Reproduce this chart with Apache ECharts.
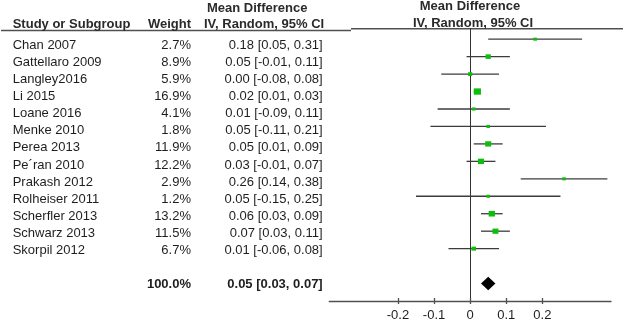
<!DOCTYPE html>
<html>
<head>
<meta charset="utf-8">
<script src="https://cdn.jsdelivr.net/npm/echarts@6/dist/echarts.min.js"></script>
<style>
html,body{margin:0;padding:0;background:#fff;}
#chart{width:625px;height:322px;}
</style>
</head>
<body>
<div id="chart"></div>
<script>
// ---- data ----
const studies = ['Chan 2007','Gattellaro 2009','Langley2016','Li 2015','Loane 2016','Menke 2010','Perea 2013','Pe\u00b4ran 2010','Prakash 2012','Rolheiser 2011','Scherfler 2013','Schwarz 2013','Skorpil 2012'];
const weights = [2.7, 8.9, 5.9, 16.9, 4.1, 1.8, 11.9, 12.2, 2.9, 1.2, 13.2, 11.5, 6.7];
const meanDiff = [0.18, 0.05, 0.00, 0.02, 0.01, 0.05, 0.05, 0.03, 0.26, 0.05, 0.06, 0.07, 0.01];
const ciLow = [0.05, -0.01, -0.08, 0.01, -0.09, -0.11, 0.01, -0.01, 0.14, -0.15, 0.03, 0.03, -0.06];
const ciHigh = [0.31, 0.11, 0.08, 0.03, 0.11, 0.21, 0.09, 0.07, 0.38, 0.25, 0.09, 0.11, 0.08];
const totalWeight = 100.0;
const totalMD = 0.05;
const totalLow = 0.03;
const totalHigh = 0.07;
const xTicks = [-0.2, -0.1, 0, 0.1, 0.2];
const headerTitle = 'Mean Difference';
const headerMethod = 'IV, Random, 95% CI';

// ---- layout / style ----
const FONT = '"Liberation Sans", Arial, sans-serif';
const TXT = '#1e1e1e';
const LINE = '#505050';
const totalRow = studies.length + 1;
const fmt = v => v.toFixed(2);
const ciText = (m, l, h) => fmt(m) + ' [' + fmt(l) + ', ' + fmt(h) + ']';

const tableRows = studies.map((s, i) => ({ row: i, name: s, w: weights[i].toFixed(1) + '%', ci: ciText(meanDiff[i], ciLow[i], ciHigh[i]), bold: false }));
tableRows.push({ row: totalRow, name: '', w: totalWeight.toFixed(1) + '%', ci: ciText(totalMD, totalLow, totalHigh), bold: true });

const COL_NAME = 12.7, COL_W = 191, COL_CI = 322.7;

const chart = echarts.init(document.getElementById('chart'), null, { renderer: 'canvas' });

chart.setOption({
  animation: false,
  backgroundColor: '#fff',
  grid: [
    { left: 0, top: 28.2, width: 340, height: 273.6 },
    { left: 329.3, top: 28.7, width: 281.7, height: 274 }
  ],
  xAxis: [
    { gridIndex: 0, type: 'value', min: 0, max: 1, show: false },
    {
      gridIndex: 1, type: 'value', min: -0.39, max: 0.39, position: 'bottom',
      axisLine: { show: true, onZero: false, lineStyle: { color: LINE, width: 1.3 } },
      axisTick: { show: true, length: 3, customValues: xTicks, lineStyle: { color: LINE, width: 1.3 } },
      axisLabel: { show: true, customValues: xTicks, margin: 8, fontSize: 13, color: TXT, fontFamily: FONT,
        formatter: v => (Math.abs(v) < 1e-9 ? '0' : String(+v.toFixed(2))) },
      splitLine: { show: false }
    },
    {
      gridIndex: 1, type: 'value', min: -0.39, max: 0.39, position: 'bottom',
      axisLine: { show: false, onZero: false },
      axisTick: { show: true, inside: true, length: 3, customValues: xTicks, lineStyle: { color: LINE, width: 1.3 } },
      axisLabel: { show: false },
      splitLine: { show: false }
    }
  ],
  yAxis: [
    { gridIndex: 0, type: 'value', min: -1, max: 15, inverse: true, show: false },
    {
      gridIndex: 1, type: 'value', min: -0.6, max: 15, inverse: true, show: true,
      axisLine: { show: true, onZero: true, onZeroAxisIndex: 1, lineStyle: { color: '#333', width: 1 } },
      axisTick: { show: false }, axisLabel: { show: false }, splitLine: { show: false }
    }
  ],
  graphic: [
    { type: 'line', shape: { x1: 1, y1: 30.5, x2: 351, y2: 30.5 }, style: { stroke: LINE, lineWidth: 1.5 }, silent: true },
    { type: 'line', shape: { x1: 351, y1: 28.7, x2: 623, y2: 28.7 }, style: { stroke: LINE, lineWidth: 1.5 }, silent: true },
    { type: 'text', x: 207, y: 8, style: { text: headerTitle, font: 'bold 13px ' + FONT, fill: '#2a2a2a', textVerticalAlign: 'middle', textAlign: 'left' } },
    { type: 'text', x: 204, y: 24.5, style: { text: headerMethod, font: 'bold 13px ' + FONT, fill: '#2a2a2a', textVerticalAlign: 'middle', textAlign: 'left' } },
    { type: 'text', x: 12.7, y: 24.5, style: { text: 'Study or Subgroup', font: 'bold 13px ' + FONT, fill: '#2a2a2a', textVerticalAlign: 'middle', textAlign: 'left' } },
    { type: 'text', x: 191, y: 24.5, style: { text: 'Weight', font: 'bold 13px ' + FONT, fill: '#2a2a2a', textVerticalAlign: 'middle', textAlign: 'right' } },
    { type: 'text', x: 470, y: 6.5, style: { text: headerTitle, font: 'bold 13px ' + FONT, fill: '#2a2a2a', textVerticalAlign: 'middle', textAlign: 'center' } },
    { type: 'text', x: 473, y: 23, style: { text: headerMethod, font: 'bold 13px ' + FONT, fill: '#2a2a2a', textVerticalAlign: 'middle', textAlign: 'center' } }
  ],
  series: [
    {
      type: 'custom', xAxisIndex: 0, yAxisIndex: 0, silent: true,
      data: tableRows.map(r => [0, r.row]),
      renderItem: function (params, api) {
        const r = tableRows[params.dataIndex];
        const y = api.coord([0, api.value(1)])[1];
        const font = (r.bold ? 'bold ' : '') + '13px ' + FONT;
        const children = [];
        if (r.name) children.push({ type: 'text', style: { x: COL_NAME, y: y, text: r.name, font: font, fill: TXT, textAlign: 'left', textVerticalAlign: 'middle' } });
        children.push({ type: 'text', style: { x: COL_W, y: y, text: r.w, font: font, fill: TXT, textAlign: 'right', textVerticalAlign: 'middle' } });
        children.push({ type: 'text', style: { x: COL_CI, y: y, text: r.ci, font: font, fill: TXT, textAlign: 'right', textVerticalAlign: 'middle' } });
        return { type: 'group', children: children };
      }
    },
    {
      type: 'custom', xAxisIndex: 1, yAxisIndex: 1, silent: true, z: 2,
      data: studies.map((s, i) => [ciLow[i], ciHigh[i], i]),
      renderItem: function (params, api) {
        const a = api.coord([api.value(0), api.value(2)]);
        const b = api.coord([api.value(1), api.value(2)]);
        return { type: 'line', shape: { x1: a[0], y1: a[1], x2: b[0], y2: b[1] }, style: { stroke: '#3c3c3c', lineWidth: 1.3 } };
      }
    },
    {
      type: 'scatter', xAxisIndex: 1, yAxisIndex: 1, silent: true, z: 3,
      symbol: 'rect',
      data: studies.map((s, i) => [meanDiff[i], i]),
      symbolSize: function (val, params) {
        const s = Math.max(3.5, 1.75 * Math.sqrt(weights[params.dataIndex]));
        return [s, s * 0.88];
      },
      itemStyle: { color: '#0cbf0c', opacity: 1 }
    },
    {
      type: 'custom', xAxisIndex: 1, yAxisIndex: 1, silent: true, z: 3,
      data: [[totalLow, totalMD, totalHigh, totalRow]],
      renderItem: function (params, api) {
        const l = api.coord([api.value(0), api.value(3)]);
        const m = api.coord([api.value(1), api.value(3)]);
        const h = api.coord([api.value(2), api.value(3)]);
        const hh = 6.7;
        return { type: 'polygon', shape: { points: [[l[0], l[1]], [m[0], m[1] - hh], [h[0], h[1]], [m[0], m[1] + hh]] }, style: { fill: '#000' } };
      }
    }
  ]
});
</script>
</body>
</html>
